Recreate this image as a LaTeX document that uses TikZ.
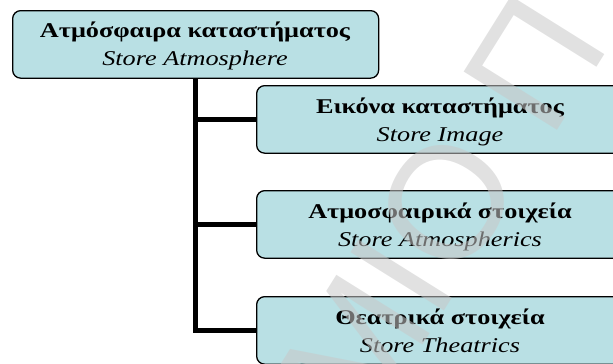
\documentclass[tikz,border=0pt]{standalone}
\usepackage{fontspec}
\setmainfont{Liberation Serif}[FakeStretch = 1.25]
\newfontfamily\wmfont{Liberation Sans}
\usepackage{tikz}

\definecolor{boxfill}{RGB}{185,224,228}
\definecolor{wmgray}{RGB}{200,200,200}

\begin{document}
\begin{tikzpicture}[x = 1pt, y = -1pt,
  box/.style = {draw, line width = 1.3pt, rounded corners = 8pt, fill = boxfill,
    inner sep = 0pt, anchor = north west, minimum height = 67.5pt},
  title/.style = {anchor = base, font = \fontsize{21}{24}\selectfont\bfseries},
  sub/.style = {anchor = base, font = \fontsize{21}{24}\selectfont\itshape},
  link/.style = {line width = 5pt},
  wmark/.style = {text = wmgray, text opacity = 0.55,
    font = \fontsize{160}{160}\selectfont\wmfont}]
\useasboundingbox (0,0) rectangle (613,364);
\clip (0,0) rectangle (613,364);

% boxes
\node [box, minimum width = 366pt] (root) at (12,10) {};
\node [box, minimum width = 368pt] (img) at (256,85) {};
\node [box, minimum width = 368pt] (atm) at (256,190) {};
\node [box, minimum width = 368pt] (thr) at (256,296) {};

% texts
\node [title] (rootA) at (195,37) {Ατμόσφαιρα καταστήματος};
\node [sub] (rootB) at (195,65) {Store Atmosphere};
\node [title] (imgA) at (440,113) {Εικόνα καταστήματος};
\node [sub] (imgB) at (440,141) {Store Image};
\node [title] (atmA) at (440,218) {Ατμοσφαιρικά στοιχεία};
\node [sub] (atmB) at (440,246) {Store Atmospherics};
\node [title] (thrA) at (440,324) {Θεατρικά στοιχεία};
\node [sub] (thrB) at (440,352) {Store Theatrics};

% connectors
\draw [link] (root.south) -- (root.south |- thr.west) -- (thr.west);
\draw [link] (root.south |- img.west) -- (img.west);
\draw [link] (root.south |- atm.west) -- (atm.west);

% watermark
\node [wmark, rotate = 58] (wmM) at (355,350) {Μ};
\node [wmark, rotate = 58] (wmI) at (402,275) {Ι};
\node [wmark, rotate = 58] (wmO) at (447,203) {Ο};
\node [wmark, rotate = 58] (wmP) at (534,63) {Π};
\end{tikzpicture}
\end{document}
